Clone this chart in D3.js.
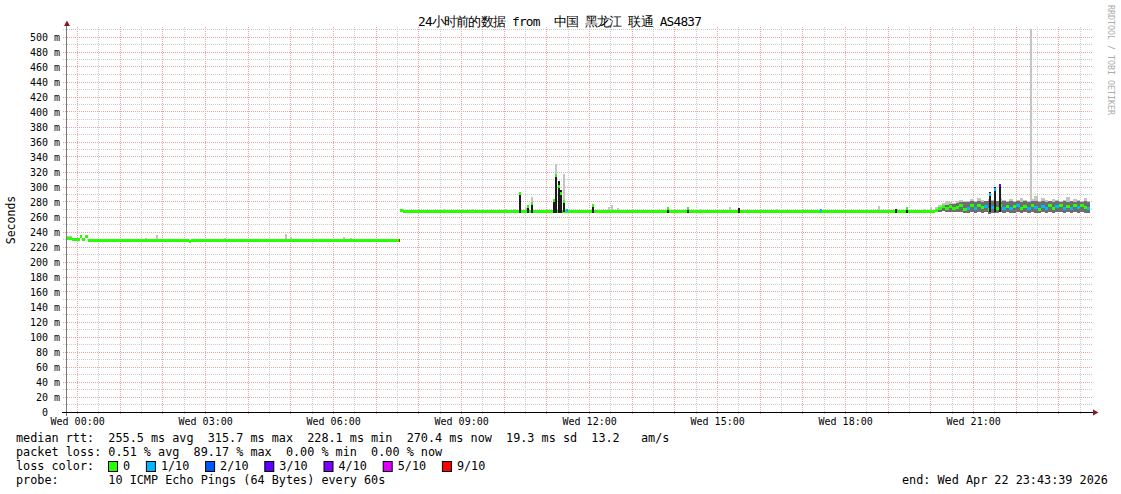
<!DOCTYPE html>
<html><head><meta charset="utf-8">
<script src="https://cdn.jsdelivr.net/npm/d3@7"></script>
<style>
html,body{margin:0;padding:0;background:#fff;}
svg{display:block;}
text{font-family:"DejaVu Sans Mono",monospace;white-space:pre;}
</style></head><body>
<svg id="c" width="1121" height="494"></svg>
<script>
// ---------------- DATA ----------------
const TITLE = "24小时前的数据 from  中国 黑龙江 联通 AS4837";
const Y_LABEL = "Seconds";
const WATERMARK = "RRDTOOL / TOBI OETIKER";
// time in minutes relative to Wed 00:00
const T_START = -16.35, T_END = 1423.65;
const xTickMinutes = [0, 180, 360, 540, 720, 900, 1080, 1260];
const xTickLabels = ["Wed 00:00","Wed 03:00","Wed 06:00","Wed 09:00","Wed 12:00","Wed 15:00","Wed 18:00","Wed 21:00"];
const yTicks = [0,20,40,60,80,100,120,140,160,180,200,220,240,260,280,300,320,340,360,380,400,420,440,460,480,500];
const yUnit = "m";

// loss colour legend
const lossCounts = [0, 1, 2, 3, 4, 5, 9];
const lossLabels = ["0", "1/10", "2/10", "3/10", "4/10", "5/10", "9/10"];
const lossColors = ["#26ff00", "#00b8ff", "#0059ff", "#5e00ff", "#7e00ff", "#dd00ff", "#ff0000"];

// main step series (start minute of each step)
const T    = [-16.35, -8.5, 3.5, 6.6, 11, 14.6, 156, 159, 451.5, 453.8, 457,
  1205,1210,1215,1220,1225,1230,1235,1240,1245,1250,1255,1260,1265,1270,1275,1280,1285,1290,1295,1300,
  1305,1310,1315,1320,1325,1330,1335,1340,1345,1350,1355,1360,1365,1370,1375,1380,1385,1390,1395,1400,
  1405,1410,1415,1420];
const MED  = [231.6, 229.6, 234.5, 229.6, 233.5, 228.3, 227, 228.3, 228.3, 268, 267.2,
  268.5,271,273.5,272,274,271.5,273,275,270.5,272,275.5,271,276,272.5,274,270,273,271.5,275,272,
  274.5,271,273.5,276,272,274,271,275,273,270.5,274,272,275.5,271,273.5,276,272,274.5,271,275,
  272.5,276,273,271.5];
const LOSS = [0,0,0,0,0,0,0,0,9,0,0,
  0,0,0,0,0,0,0,0,0,1,0,1,0,0,1,0,1,0,0,1,
  0,1,0,1,0,0,1,0,1,0,1,1,0,0,1,0,1,0,1,0,
  1,0,0,1];
const DLO  = [0,0,0,0,0,0,0,0,0,266,0,
  266,267,268,267,267,266,266,266,265,265,266,265,266,265,266,264,265,265,266,265,
  266,265,265,266,265,266,265,266,265,265,266,265,266,265,266,266,265,266,265,266,
  265,266,265,265];
const DHI  = [0,0,0,0,0,0,0,0,0,269,0,
  270,273,276,276,277,277,279,280,280,280,281,280,281,280,281,281,282,281,280,281,
  280,281,280,281,280,281,280,281,281,280,281,280,281,280,281,280,281,280,281,280,
  281,280,281,280];
const LHI  = [234.7,0,0,0,0,0,0,0,0,271,0,
  273,276,279,282,280,278,281,283,282,281,284,282,285,283,282,284,283,282,286,283,
  281,284,282,283,285,283,282,284,288,282,285,283,282,284,283,282,283,287,282,284,
  283,282,285,281];

// isolated events (single columns): base, dark top, light top, median, loss
const ET    = [94.8,110.3,206,291.7,298.7,373.3,383,
  514,539.5,553.5,601.3,612.5,629.4,746.1,750.4,758.8,875.5,916.3,982.4,1125.9,1190.5,1199,
  620,632,637.6,668.5,672,675,679,682.6,687,724,829,857,929,1044,1150,1165,1282,1288,1295,1339.3];
const EBASE = [228,228,228,228,228,228,228,
  267,267,267,267,267,267,267,267,267,267,267,267,267,267,267,
  267,267,267,267,267,267,267,268,267,267,267,267,267,267,267,267,268,268,268,268];
const EDHI  = [0,0,0,0,0,0,0,
  0,0,0,0,0,0,0,0,0,0,0,0,0,0,0,
  293,275,279,283,316,308,296,283,0,277,273,272,272,0,271,273,293,300,303,0];
const ELHI  = [232,235.5,232,238,234,233,232,
  270.5,271,270,270.5,271,272,274,275.5,272,271,273,271,275,271,273,
  0,0,287,0,331,0,0,318,0,0,0,0,0,0,0,0,0,0,0,600];
const EMED  = [0,0,0,0,0,0,0,
  0,0,0,0,0,0,0,0,0,0,0,0,0,0,0,
  292,274,278,282,315.5,301,292,280,269,276,272,271,0,269,0,272,290,297,302,0];
const ELOSS = [0,0,0,0,0,0,0,
  0,0,0,0,0,0,0,0,0,0,0,0,0,0,0,
  0,0,0,0,0,0,0,0,1,0,0,0,0,1,0,0,1,1,3,0];

const LEGEND_RTT  = "median rtt:  255.5 ms avg  315.7 ms max  228.1 ms min  270.4 ms now  19.3 ms sd  13.2   am/s";
const LEGEND_LOSS = "packet loss: 0.51 % avg  89.17 % max  0.00 % min  0.00 % now";
const LEGEND_LC   = "loss color:";
const LEGEND_PROBE= "probe:       10 ICMP Echo Pings (64 Bytes) every 60s";
const LEGEND_END  = "end: Wed Apr 22 23:43:39 2026";

// ---------------- DRAW ----------------
const svg = d3.select("#c");
const X0 = 66, X1 = 1090, YB = 412, YT = 27;
const x = d3.scaleLinear().domain([T_START, T_END]).range([X0, X1]);
const y = d3.scaleLinear().domain([0, 500]).range([412, 37]);
const lossColor = d3.scaleOrdinal(lossCounts, lossColors);

svg.append("rect").attr("width",1121).attr("height",494).attr("fill","#fff");

// grid (dotted, pixel aligned)
const grid = svg.append("g");
const minorY = d3.range(10, 520, 20);
const majorY = yTicks.filter(v => v > 0);
const minorX = d3.range(30, T_END, 60);
const majorX = d3.range(0, T_END, 60);
const GMIN = "#cccccc", GMAJ = "#f0a0a0";
function hLines(vals, col){
  grid.selectAll(null).data(vals).join("line")
    .attr("x1",63).attr("x2",1093)
    .attr("y1",d=>Math.floor(y(d))+0.5).attr("y2",d=>Math.floor(y(d))+0.5)
    .attr("stroke",col).attr("stroke-width",1).attr("stroke-dasharray","1,1");
}
function vLines(vals, col){
  grid.selectAll(null).data(vals).join("line")
    .attr("y1",YT).attr("y2",415)
    .attr("x1",d=>Math.floor(x(d))+0.5).attr("x2",d=>Math.floor(x(d))+0.5)
    .attr("stroke",col).attr("stroke-width",1).attr("stroke-dasharray","1,1");
}
hLines(minorY, GMIN); vLines(minorX, GMIN);
hLines(majorY, GMAJ); vLines(majorX, GMAJ);

// data
svg.append("clipPath").attr("id","pc").append("rect")
  .attr("x",X0).attr("y",YT+2).attr("width",X1-X0).attr("height",YB-YT-2);
const dg = svg.append("g").attr("clip-path","url(#pc)").attr("shape-rendering","crispEdges");

const main = T.map((t,i)=>({t0:t, t1: i<T.length-1 ? T[i+1] : T_END, med:MED[i], loss:LOSS[i], dlo:DLO[i], dhi:DHI[i], lhi:LHI[i]}));
const ev = ET.map((t,i)=>({t0:t, t1:t+2.8, base:EBASE[i], dhi:EDHI[i], lhi:ELHI[i], med:EMED[i], loss:ELOSS[i]}));
const rx = d => Math.round(x(d.t0));
const rw = d => Math.max(1, Math.round(x(d.t1)) - Math.round(x(d.t0)));

// main light smoke
dg.selectAll(".ml").data(main.filter(d=>d.lhi>0)).join("rect")
  .attr("x",rx).attr("width",rw)
  .attr("y",d=>Math.round(y(d.lhi)))
  .attr("height",d=>Math.max(1,Math.round(y(d.dlo>0?d.dlo:d.med)) - Math.round(y(d.lhi))))
  .attr("fill","#c4c4c4");
// event light smoke
dg.selectAll(".el").data(ev.filter(d=>d.lhi>0)).join("rect")
  .attr("x",rx).attr("width",rw)
  .attr("y",d=>Math.round(y(d.lhi)))
  .attr("height",d=>Math.max(1,Math.round(y(d.base)) - Math.round(y(d.lhi))))
  .attr("fill","#c4c4c4");
// main dark smoke
dg.selectAll(".md").data(main.filter(d=>d.dhi>d.dlo)).join("rect")
  .attr("x",rx).attr("width",rw)
  .attr("y",d=>Math.round(y(d.dhi)))
  .attr("height",d=>Math.round(y(d.dlo)) - Math.round(y(d.dhi)))
  .attr("fill","#6e6e6e");
// median bands
dg.selectAll(".mm").data(main).join("rect")
  .attr("x",rx).attr("width",rw)
  .attr("y",d=>Math.round(y(d.med)-1.5)).attr("height",3)
  .attr("fill",d=>lossColor(d.loss));
// event dark spikes
dg.selectAll(".ed").data(ev.filter(d=>d.dhi>0)).join("rect")
  .attr("x",rx).attr("width",rw)
  .attr("y",d=>Math.round(y(d.dhi)))
  .attr("height",d=>Math.round(y(d.base)+1.5) - Math.round(y(d.dhi)))
  .attr("fill","#1c1c1c");
// event median tips
dg.selectAll(".em").data(ev.filter(d=>d.med>0)).join("rect")
  .attr("x",rx).attr("width",rw)
  .attr("y",d=>Math.round(y(d.med)-1.5)).attr("height",3)
  .attr("fill",d=>lossColor(d.loss));

// axes
const ax = svg.append("g").attr("shape-rendering","crispEdges");
ax.append("line").attr("x1",66.5).attr("x2",66.5).attr("y1",24).attr("y2",416).attr("stroke","#7a7a7a");
ax.append("line").attr("x1",62).attr("x2",1094).attr("y1",412.5).attr("y2",412.5).attr("stroke","#000");
svg.append("path").attr("d","M64,26L70,26L67,20.5Z").attr("fill","#8b1a1a");
svg.append("path").attr("d","M1093,409.5L1093,415.5L1098.5,412.5Z").attr("fill","#8b1a1a");

// tick labels
svg.selectAll(".yl").data(yTicks).join("text")
  .attr("x",60).attr("y",d=>y(d)+3.6).attr("text-anchor","end")
  .attr("font-size","10px").attr("fill","#000")
  .text(d => d === 0 ? "0  " : d + " " + yUnit);
svg.selectAll(".xl").data(xTickMinutes).join("text")
  .attr("x",d=>x(d)).attr("y",425).attr("text-anchor","middle")
  .attr("font-size","10px").attr("fill","#000")
  .text((d,i)=>xTickLabels[i]);

// title
svg.append("text").attr("x",418).attr("y",26).attr("font-size","12.8px")
  .attr("font-family","'DejaVu Sans Mono','Noto Sans CJK SC',monospace")
  .attr("textLength",284).attr("lengthAdjust","spacing")
  .attr("fill","#000").text(TITLE);

// y label
svg.append("text").attr("transform","translate(15,220) rotate(-90)")
  .attr("text-anchor","middle").attr("font-size","11.5px").attr("fill","#000").text(Y_LABEL);
// watermark
svg.append("text").attr("transform","translate(1108,5) rotate(90)")
  .attr("font-size","8.3px").attr("fill","#ababab").text(WATERMARK);

// legend
const LF = "11.8px";
svg.append("text").attr("x",16).attr("y",442).attr("font-size",LF).text(LEGEND_RTT);
svg.append("text").attr("x",16).attr("y",456).attr("font-size",LF).text(LEGEND_LOSS);
svg.append("text").attr("x",16).attr("y",470).attr("font-size",LF).text(LEGEND_LC);
svg.append("text").attr("x",16).attr("y",484).attr("font-size",LF).text(LEGEND_PROBE);
svg.append("text").attr("x",902).attr("y",484).attr("font-size",LF).text(LEGEND_END);
let lx = 108;
const lg = svg.append("g");
lossLabels.forEach((lab,i)=>{
  lg.append("rect").attr("x",lx+0.5).attr("y",461.5).attr("width",9).attr("height",10)
    .attr("fill",lossColor(lossCounts[i])).attr("stroke","#000").attr("stroke-width",1);
  lg.append("text").attr("x",lx+15).attr("y",470).attr("font-size",LF).text(lab);
  lx += 15 + lab.length*7.1 + 15.8;
});
</script>
</body></html>
